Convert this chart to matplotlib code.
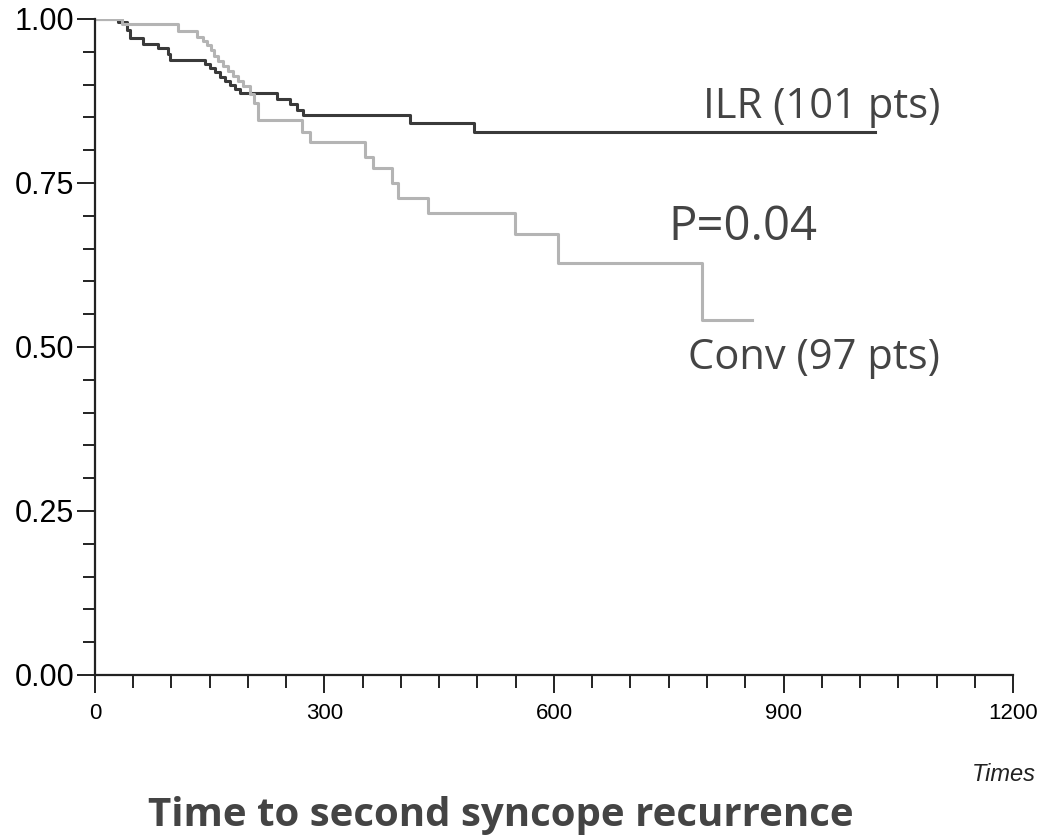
import matplotlib
matplotlib.use('Agg')
import matplotlib.pyplot as plt
from matplotlib.ticker import MultipleLocator

# Kaplan-Meier steps (days, survival free of recurrence)
ilr_t = [0, 30, 42, 46, 63, 83, 95, 98, 144, 150, 157, 163, 170, 176, 183, 190,
         238, 255, 264, 272, 412, 495, 1020]
ilr_s = [1.0, 0.995, 0.983, 0.971, 0.962, 0.956, 0.946, 0.938, 0.931, 0.925, 0.919,
         0.912, 0.905, 0.899, 0.893, 0.887, 0.878, 0.870, 0.861, 0.854, 0.841, 0.828, 0.828]

conv_t = [0, 35, 108, 133, 141, 146, 152, 156, 161, 167, 174, 180, 187, 193, 203, 208,
          213, 271, 281, 353, 363, 388, 396, 435, 549, 605, 793, 859]
conv_s = [1.0, 0.992, 0.982, 0.973, 0.966, 0.960, 0.953, 0.944, 0.936, 0.928, 0.921,
          0.913, 0.905, 0.898, 0.886, 0.872, 0.846, 0.828, 0.812, 0.790, 0.773, 0.750,
          0.727, 0.704, 0.672, 0.628, 0.541, 0.541]

xticks = [0, 300, 600, 900, 1200]
yticks = [0.0, 0.25, 0.5, 0.75, 1.0]
ytick_labels = ['0.00', '0.25', '0.50', '0.75', '1.00']

fig = plt.figure(figsize=(10.39, 8.36), dpi=100)
ax = fig.add_axes([0.0914, 0.1926, 0.8836, 0.7847])

ax.step(ilr_t, ilr_s, where='post', color='#3a3a3a', lw=2.2)
ax.step(conv_t, conv_s, where='post', color='#b4b4b4', lw=2.2)

ax.set_xlim(0, 1200)
ax.set_ylim(0, 1)
ax.spines['top'].set_visible(False)
ax.spines['right'].set_visible(False)
for s in ['left', 'bottom']:
    ax.spines[s].set_color('#222222')
    ax.spines[s].set_linewidth(1.6)

ax.set_xticks(xticks)
ax.set_xticklabels([str(v) for v in xticks], fontsize=16, family='Liberation Sans')
ax.set_yticks(yticks)
ax.set_yticklabels(ytick_labels, fontsize=22, family='Liberation Sans')
ax.xaxis.set_minor_locator(MultipleLocator(50))
ax.yaxis.set_minor_locator(MultipleLocator(0.05))
ax.tick_params(which='major', length=13, width=1.4, color='#222222', pad=2)
ax.tick_params(which='minor', length=9, width=1.4, color='#222222')
ax.tick_params(axis='x', which='major', pad=7)

ax.text(1105, 0.866, 'ILR (101 pts)', fontsize=30, family='Open Sans',
        color='#444444', ha='right', va='center')
ax.text(749, 0.683, 'P=0.04', fontsize=34, family='Open Sans',
        color='#444444', ha='left', va='center')
ax.text(1105, 0.483, 'Conv (97 pts)', fontsize=30, family='Open Sans',
        color='#444444', ha='right', va='center')

fig.text(0.997, 0.073, 'Times', fontsize=17, style='italic',
         family='Liberation Sans', ha='right', va='center', color='#222222')
fig.text(0.482, 0.025, 'Time to second syncope recurrence', fontsize=29,
         weight='bold', family='Open Sans', color='#444444', ha='center', va='center')

fig.savefig('out.png', dpi=100)
